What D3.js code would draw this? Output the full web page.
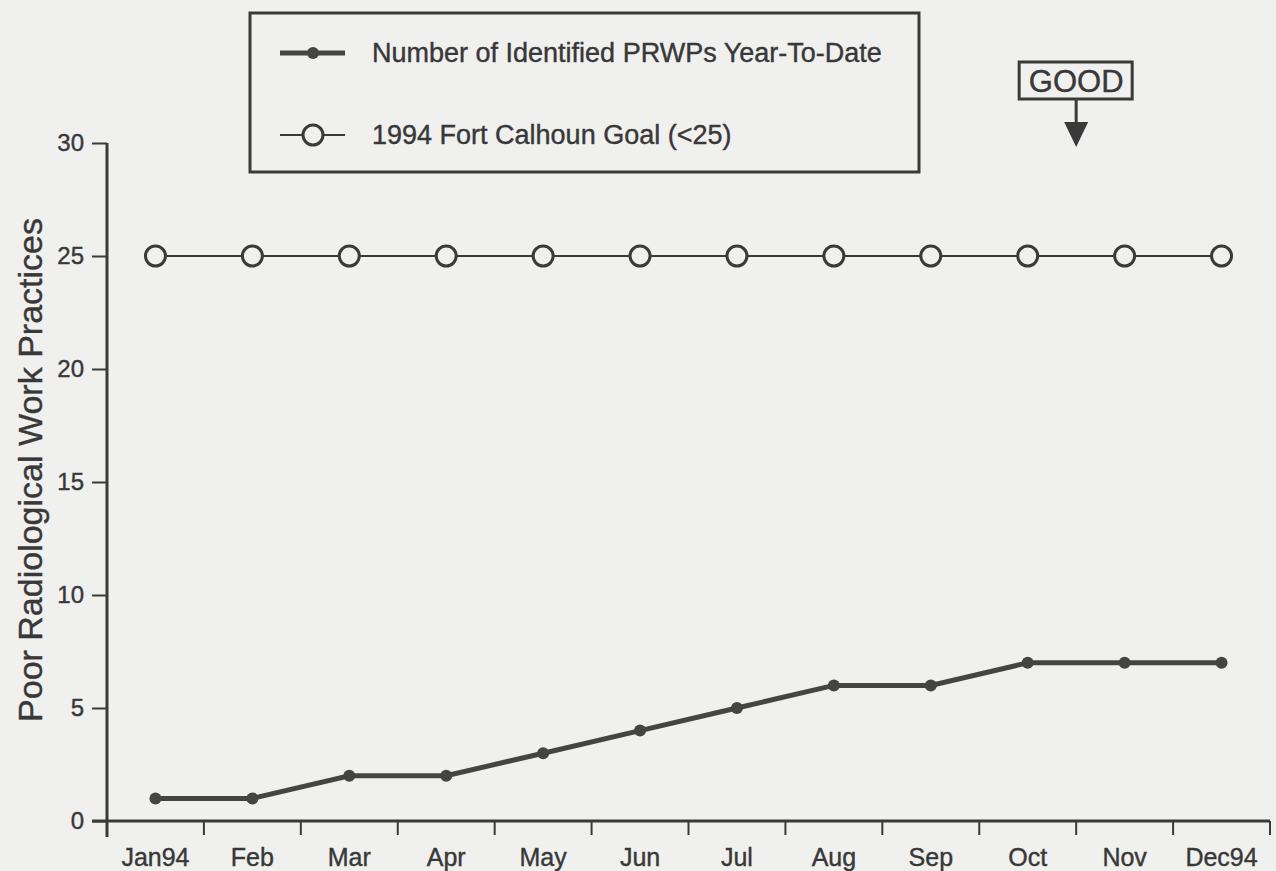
<!DOCTYPE html>
<html>
<head>
<meta charset="utf-8">
<script src="https://cdn.jsdelivr.net/npm/d3@7"></script>
<style>
  body { margin: 0; background: #f0f0ee; }
  svg { display: block; }
  text { font-family: "Liberation Sans", Arial, sans-serif; fill: #383838; stroke: #383838; stroke-width: 0.4px; }
</style>
</head>
<body>
<div id="chart"></div>
<script>
var months = ["Jan94","Feb","Mar","Apr","May","Jun","Jul","Aug","Sep","Oct","Nov","Dec94"]
var prwps = [1,1,2,2,3,4,5,6,6,7,7,7]
var goal = [25,25,25,25,25,25,25,25,25,25,25,25]
var yTicks = [0,5,10,15,20,25,30]
var seriesNames = ["Number of Identified PRWPs Year-To-Date","1994 Fort Calhoun Goal (<25)"]

var W = 1276, H = 871
var ink = "#3a3a3a"

var svg = d3.select("#chart").append("svg").attr("width",W).attr("height",H)

var x = d3.scaleBand().domain(months).range([107,1270])
var y = d3.scaleLinear().domain([0,30]).range([821,143])

// y axis
var yAxis = svg.append("g").attr("transform","translate(107,0)")
  .call(d3.axisLeft(y).tickValues(yTicks).tickSize(15).tickPadding(8))
yAxis.select(".domain").remove()
yAxis.selectAll("line").attr("stroke",ink).attr("stroke-width",2)
yAxis.selectAll("text").attr("font-size",24).attr("fill","#383838")
svg.append("line").attr("x1",107).attr("x2",107).attr("y1",y(30)).attr("y2",837)
  .attr("stroke",ink).attr("stroke-width",3)

// x axis
svg.append("line").attr("x1",92).attr("x2",1270).attr("y1",y(0)).attr("y2",y(0))
  .attr("stroke",ink).attr("stroke-width",3)
svg.selectAll(".xtick").data(months).enter().append("line")
  .attr("class","xtick")
  .attr("x1",function(d){return x(d)+x.bandwidth()}).attr("x2",function(d){return x(d)+x.bandwidth()})
  .attr("y1",y(0)).attr("y2",y(0)+14)
  .attr("stroke",ink).attr("stroke-width",2)
svg.selectAll(".xlab").data(months).enter().append("text")
  .attr("class","xlab")
  .attr("x",function(d){return x(d)+x.bandwidth()/2}).attr("y",866)
  .attr("text-anchor","middle").attr("font-size",25)
  .text(function(d){return d})

// y label
svg.append("text").attr("transform","translate(42,470) rotate(-90)")
  .attr("text-anchor","middle").attr("font-size",34)
  .text("Poor Radiological Work Practices")

var line = d3.line().x(function(d,i){return x(months[i])+x.bandwidth()/2}).y(function(d){return y(d)})

// goal series
svg.append("path").datum(goal).attr("d",line).attr("fill","none").attr("stroke",ink).attr("stroke-width",2)
svg.selectAll(".goal").data(goal).enter().append("circle")
  .attr("class","goal")
  .attr("cx",function(d,i){return x(months[i])+x.bandwidth()/2}).attr("cy",function(d){return y(d)})
  .attr("r",10).attr("fill","#f0f0ee").attr("stroke",ink).attr("stroke-width",3)

// PRWP series
svg.append("path").datum(prwps).attr("d",line).attr("fill","none").attr("stroke","#444").attr("stroke-width",5)
svg.selectAll(".pt").data(prwps).enter().append("circle")
  .attr("class","pt")
  .attr("cx",function(d,i){return x(months[i])+x.bandwidth()/2}).attr("cy",function(d){return y(d)})
  .attr("r",6).attr("fill","#444")

// legend
var lg = svg.append("g")
lg.append("rect").attr("x",250).attr("y",13).attr("width",669).attr("height",159)
  .attr("fill","none").attr("stroke",ink).attr("stroke-width",3)
lg.append("line").attr("x1",280).attr("x2",345).attr("y1",53).attr("y2",53).attr("stroke","#444").attr("stroke-width",5)
lg.append("circle").attr("cx",313).attr("cy",53).attr("r",6).attr("fill","#444")
lg.append("line").attr("x1",280).attr("x2",345).attr("y1",135).attr("y2",135).attr("stroke",ink).attr("stroke-width",2)
lg.append("circle").attr("cx",313).attr("cy",135).attr("r",10).attr("fill","#f0f0ee").attr("stroke",ink).attr("stroke-width",3)
lg.selectAll(".lt").data(seriesNames).enter().append("text")
  .attr("class","lt")
  .attr("x",372).attr("y",function(d,i){return 62+i*82})
  .attr("font-size",27)
  .text(function(d){return d})

// GOOD marker
var gx = x("Nov")
svg.append("rect").attr("x",gx-57).attr("y",62).attr("width",113).attr("height",37)
  .attr("fill","none").attr("stroke",ink).attr("stroke-width",3)
svg.append("text").attr("x",gx).attr("y",92).attr("text-anchor","middle").attr("font-size",31).text("GOOD")
svg.append("line").attr("x1",gx).attr("x2",gx).attr("y1",99).attr("y2",126).attr("stroke",ink).attr("stroke-width",3)
svg.append("path").attr("d","M"+(gx-12)+",122L"+(gx+12)+",122L"+gx+",147Z").attr("fill",ink)
</script>
</body>
</html>
